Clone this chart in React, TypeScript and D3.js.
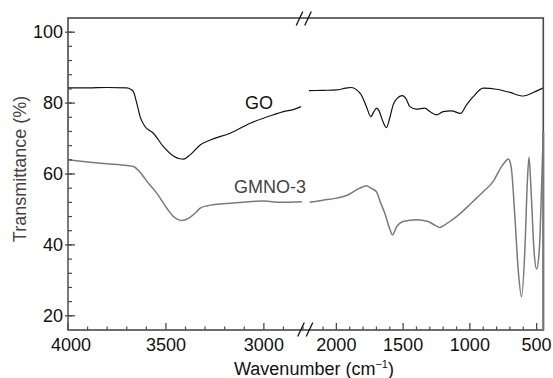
import React from "react";
import * as d3 from "d3";

// ---- data ----
const goLeftWn = [4000, 3900, 3800, 3700, 3680, 3666, 3649, 3632, 3607, 3564, 3513, 3462, 3430, 3410, 3377, 3325, 3274, 3172, 3070, 2951, 2900, 2860, 2810];
const goLeftT = [84.3, 84.3, 84.4, 84.3, 83.9, 83.2, 80.0, 76.2, 73.4, 71.5, 67.7, 65.1, 64.3, 64.2, 65.4, 68.2, 69.6, 71.5, 74.3, 76.7, 77.6, 78.0, 79.0];

const goRightWn = [2205, 2100, 2000, 1930, 1888, 1850, 1813, 1775, 1742, 1720, 1700, 1680, 1663, 1640, 1625, 1600, 1575, 1540, 1505, 1475, 1450, 1400, 1338, 1300, 1250, 1200, 1138, 1070, 1025, 975, 900, 800, 700, 600, 525, 450];
const goRightT = [83.5, 83.6, 83.7, 84.2, 84.4, 83.8, 82.3, 79.0, 76.2, 77.5, 78.6, 77.8, 76.0, 73.8, 73.1, 75.8, 79.5, 81.5, 82.1, 81.0, 79.0, 78.3, 78.6, 77.6, 76.7, 77.6, 77.8, 77.1, 79.5, 81.8, 84.2, 83.9, 83.0, 82.0, 83.0, 84.3];

const gmLeftWn = [4000, 3900, 3800, 3700, 3666, 3640, 3615, 3598, 3547, 3496, 3462, 3419, 3385, 3350, 3325, 3291, 3155, 3000, 2915, 2806];
const gmLeftT = [64.0, 63.4, 62.9, 62.4, 62.1, 61.0, 59.3, 58.0, 54.6, 50.4, 48.0, 46.9, 47.5, 49.0, 50.4, 51.0, 51.8, 52.4, 52.0, 52.2];

const gmRightWn = [2200, 2100, 2000, 1920, 1850, 1800, 1775, 1740, 1700, 1670, 1638, 1600, 1580, 1550, 1500, 1400, 1313, 1260, 1225, 1190, 1150, 1100, 1050, 1000, 950, 900, 825, 763, 730, 713, 700, 688, 663, 638, 613, 588, 570, 557, 545, 538, 520, 500, 480, 462, 450];
const gmRightT = [52.0, 52.6, 53.2, 54.0, 55.5, 56.4, 56.7, 56.0, 55.0, 52.0, 49.0, 44.5, 42.8, 45.0, 46.6, 47.1, 46.6, 45.5, 44.9, 45.6, 46.6, 48.0, 49.6, 51.4, 53.2, 55.0, 57.9, 62.1, 63.7, 64.2, 63.5, 61.2, 48.0, 33.0, 25.4, 38.6, 57.4, 64.7, 58.0, 52.7, 38.6, 33.2, 38.6, 57.4, 72.0];

const yMajor = [20, 40, 60, 80, 100];
const yMinor = [20, 24, 28, 32, 36, 40, 44, 48, 52, 56, 60, 64, 68, 72, 76, 80, 84, 88, 92, 96, 100];
const xLeftMajor = [4000, 3500, 3000];
const xLeftMinor = [3900, 3800, 3700, 3600, 3400, 3300, 3200, 3100, 2900, 2800];
const xRightMajor = [2000, 1500, 1000, 500];
const xRightMinor = [2100, 1900, 1800, 1700, 1600, 1400, 1300, 1200, 1100, 900, 800, 700, 600];
const edgeRange = [72, 16];

const W = 553, H = 378;
const L = 68, R = 543.3, T = 18, B = 330, BRK = 305;

const xL = d3.scaleLinear().domain([4000, 2790]).range([L, BRK]);
const xR = d3.scaleLinear().domain([2235, 450]).range([BRK, R]);
const y = d3.scaleLinear().domain([16, 104]).range([B, T]);

const font = "'Liberation Sans', Arial, Helvetica, sans-serif";

function path(xs: d3.ScaleLinear<number, number>, wn: number[], t: number[]) {
  const g = d3
    .line<number>()
    .x((i) => xs(wn[i]))
    .y((i) => y(t[i]))
    .curve(d3.curveMonotoneX);
  return g(wn.map((_, i) => i)) || "";
}

export default function App() {
  const axisColor = "#4a4a4a";
  const goColor = "#111";
  const gmColor = "#7a7a7a";
  const slash = (cx: number, cy: number, k: number) => (
    <line key={k} x1={cx - 3.3} y1={cy + 7} x2={cx + 3.3} y2={cy - 7} stroke="#111" strokeWidth={1.3} />
  );
  return (
    <svg width={W} height={H} style={{ position: "absolute", left: 0, top: 0, background: "#fff" }} fontFamily={font}>
      <rect x={0} y={0} width={W} height={H} fill="#fff" />
      {/* curves */}
      <path d={path(xL, gmLeftWn, gmLeftT)} fill="none" stroke={gmColor} strokeWidth={1.5} />
      <path d={path(xR, gmRightWn, gmRightT)} fill="none" stroke={gmColor} strokeWidth={1.5} />
      <path d={path(xL, goLeftWn, goLeftT)} fill="none" stroke={goColor} strokeWidth={1.2} />
      <path d={path(xR, goRightWn, goRightT)} fill="none" stroke={goColor} strokeWidth={1.2} />

      {/* frame */}
      <rect x={L} y={T} width={R - L} height={B - T} fill="none" stroke={axisColor} strokeWidth={1.6} />
      {/* gray edge overlays */}
      <line x1={L} x2={L} y1={y(edgeRange[0])} y2={y(edgeRange[1])} stroke={gmColor} strokeWidth={2} />
      <line x1={R} x2={R} y1={y(edgeRange[0])} y2={y(edgeRange[1])} stroke={gmColor} strokeWidth={2} />

      {/* y ticks */}
      {yMinor.map((v) => (
        <line key={"ym" + v} x1={L} x2={L + 4} y1={y(v)} y2={y(v)} stroke={axisColor} strokeWidth={1.2} />
      ))}
      {yMajor.map((v) => (
        <g key={"yM" + v}>
          <line x1={L - 3} x2={L + 7} y1={y(v)} y2={y(v)} stroke={axisColor} strokeWidth={1.3} />
          <text x={L - 5} y={y(v)} dy="0.33em" textAnchor="end" fontSize={18} fill="#111">
            {v}
          </text>
        </g>
      ))}

      {/* x ticks */}
      {xLeftMinor.map((v) => (
        <line key={"xlm" + v} x1={xL(v)} x2={xL(v)} y1={B} y2={B - 3.5} stroke={axisColor} strokeWidth={1.2} />
      ))}
      {xRightMinor.map((v) => (
        <line key={"xrm" + v} x1={xR(v)} x2={xR(v)} y1={B} y2={B - 3.5} stroke={axisColor} strokeWidth={1.2} />
      ))}
      {xLeftMajor.map((v) => (
        <g key={"xlM" + v}>
          <line x1={xL(v)} x2={xL(v)} y1={B} y2={B - 7} stroke={axisColor} strokeWidth={1.3} />
          <text x={xL(v) + (v === 4000 ? 3 : 0)} y={351} textAnchor="middle" fontSize={18} fill="#111">
            {v}
          </text>
        </g>
      ))}
      {xRightMajor.map((v) => (
        <g key={"xrM" + v}>
          <line x1={xR(v)} x2={xR(v)} y1={B} y2={B - 7} stroke={axisColor} strokeWidth={1.3} />
          <text x={xR(v)} y={351} textAnchor="middle" fontSize={18} fill="#111">
            {v}
          </text>
        </g>
      ))}

      {/* break marks */}
      {slash(BRK - 5.5, T + 0.5, 1)}
      {slash(BRK + 3, T + 0.5, 2)}
      {slash(BRK - 4, B - 0.5, 3)}
      {slash(BRK + 4.5, B - 0.5, 4)}

      {/* labels */}
      <text x={259} y={109} textAnchor="middle" fontSize={18} fill="#111">GO</text>
      <text x={270} y={193} textAnchor="middle" fontSize={18} fill="#444">GMNO-3</text>

      <text x={314} y={375} textAnchor="middle" fontSize={18} fill="#111">
        Wavenumber (cm
        <tspan fontSize={11} dy={-7}>−1</tspan>
        <tspan dy={7}>)</tspan>
      </text>
      <text
        transform={`translate(26,169) rotate(-90)`}
        textAnchor="middle"
        fontSize={18}
        fill="#444"
      >
        Transmittance (%)
      </text>
    </svg>
  );
}
